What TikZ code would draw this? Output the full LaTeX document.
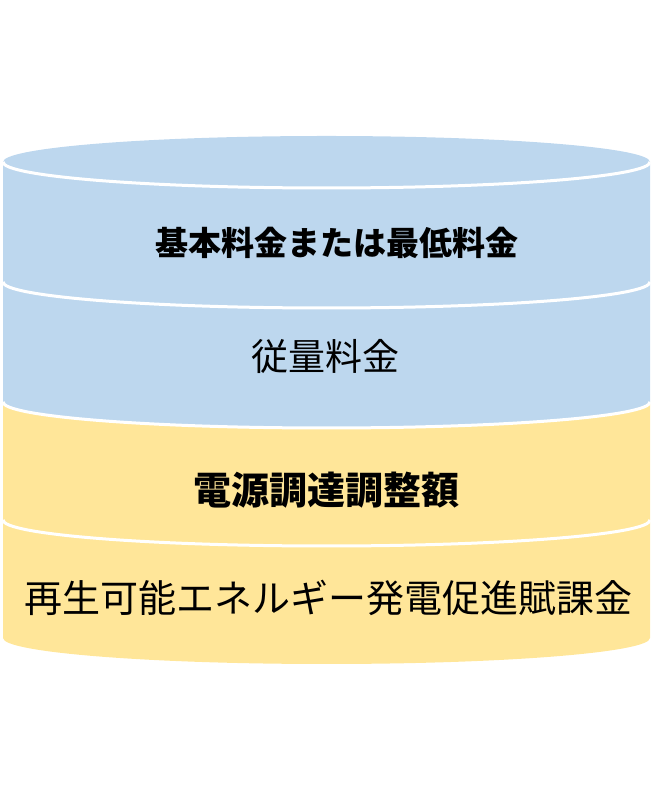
\documentclass[tikz,border=0pt]{standalone}
\usepackage{fontspec}
\setmainfont{Noto Sans CJK JP}
\usetikzlibrary{positioning}
\definecolor{layerblue}{HTML}{BDD7EE}
\definecolor{layeryellow}{HTML}{FFE699}

\begin{document}
\begin{tikzpicture}[x=1pt, y=1pt,
  rim/.style={draw=white, line width=3pt},
  layertext/.style={inner sep=0pt, text=black}
]
  \useasboundingbox (0,0) rectangle (655,802);
  % layers, top edge / bottom edge / colour
  \foreach \yt/\yb/\col in {640/520/layerblue, 520/400/layerblue,
                            400/282/layeryellow, 282/164/layeryellow}{
    \fill[\col] (3,\yt) arc[start angle=180, end angle=360, x radius=323.5, y radius=26]
      -- (650,\yb) arc[start angle=0, end angle=-180, x radius=323.5, y radius=26] -- cycle;
  }
  \fill[layerblue] (326.5,640) ellipse[x radius=323.5, y radius=26];
  \foreach \yt in {640,520,400,282}
    \draw[rim] (3,\yt) arc[start angle=180, end angle=360, x radius=323.5, y radius=26];

  \node[layertext, font=\fontsize{33}{40}\selectfont\bfseries] (basic) at (336.5,559) {基本料金または最低料金};
  \node[layertext, font=\fontsize{37}{44}\selectfont] (usage) at (325,445) {従量料金};
  \node[layertext, font=\fontsize{38}{45}\selectfont\bfseries] (adjust) at (326.5,312) {電源調達調整額};
  \node[layertext, font=\fontsize{38}{45}\selectfont] (renew) at (328,204) {再生可能エネルギー発電促進賦課金};
\end{tikzpicture}
\end{document}
